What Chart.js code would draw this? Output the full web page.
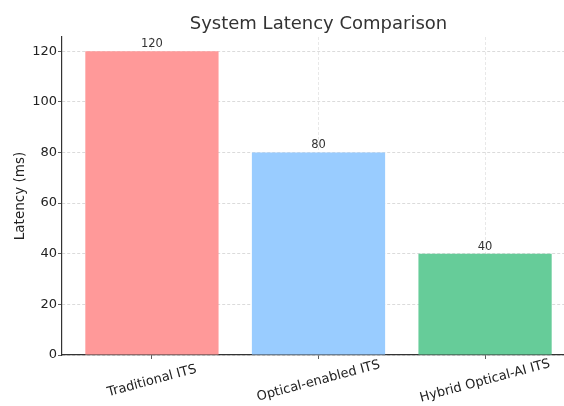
<!DOCTYPE html>
<html>
<head>
<meta charset="utf-8">
<script src="https://cdn.jsdelivr.net/npm/chart.js@4.4.0/dist/chart.umd.min.js"></script>
<style>
    html, body { margin: 0; padding: 0; background: #fff; overflow: hidden; }
    #wrap { width: 576px; height: 406px; position: relative; }
</style>
</head>
<body>
<div id="wrap"><canvas id="chart"></canvas></div>
<script>
const categories = ['Traditional ITS', 'Optical-enabled ITS', 'Hybrid Optical-AI ITS'];
const latencyValues = [120, 80, 40];
const barColors = ['#ff9999', '#99ccff', '#66cc99'];
const yTicks = [0, 20, 40, 60, 80, 100, 120];

const chartTitle = 'System Latency Comparison';
const yAxisTitle = 'Latency (ms)';
const fontFamily = '"DejaVu Sans", sans-serif';

// 标题、数值标签和旋转的 x 轴标签
const annotatePlugin = {
    id: 'annotate',
    afterDraw(chart) {
        const ctx = chart.ctx;
        const area = chart.chartArea;
        const xScale = chart.scales.x;
        const meta = chart.getDatasetMeta(0);

        ctx.save();
        // 标题
        ctx.fillStyle = '#333333';
        ctx.font = '18px ' + fontFamily;
        ctx.textAlign = 'center';
        ctx.textBaseline = 'alphabetic';
        ctx.fillText(chartTitle, (area.left + area.right) / 2, 29);

        // 柱子上的数值
        ctx.font = '11.5px ' + fontFamily;
        ctx.fillStyle = '#333333';
        meta.data.forEach((bar, i) => {
            ctx.fillText(String(latencyValues[i]), bar.x, bar.y - 4);
        });

        // x 轴标签
        ctx.font = '13px ' + fontFamily;
        ctx.fillStyle = '#222222';
        ctx.textBaseline = 'middle';
        categories.forEach((label, i) => {
            const x = xScale.getPixelForValue(i);
            ctx.save();
            ctx.translate(x, area.bottom + 26);
            ctx.rotate(-15 * Math.PI / 180);
            ctx.fillText(label, 0, 0);
            ctx.restore();
        });
        ctx.restore();
    }
};

new Chart(document.getElementById('chart'), {
    type: 'bar',
    data: {
        datasets: [{
            data: latencyValues.map((v, i) => ({ x: i, y: v })),
            backgroundColor: barColors,
            borderWidth: 0,
            barPercentage: 0.8,
            categoryPercentage: 1.0
        }]
    },
    options: {
        responsive: true,
        maintainAspectRatio: false,
        animation: false,
        layout: { padding: { top: 37, right: 1, left: 0, bottom: 0 } },
        plugins: {
            legend: { display: false },
            title: { display: false },
            tooltip: { enabled: false }
        },
        scales: {
            x: {
                type: 'linear',
                min: -0.54,
                max: 2.54,
                offset: false,
                z: 1,
                afterFit: (scale) => { scale.height = 51; },
                afterBuildTicks: (scale) => {
                    scale.ticks = categories.map((c, i) => ({ value: i }));
                },
                grid: {
                    offset: false,
                    color: 'rgba(170,170,170,0.35)',
                    lineWidth: 0.8,
                    tickLength: 4,
                    tickColor: '#333333'
                },
                border: { display: true, color: '#333333', width: 1.2, dash: [3, 2] },
                ticks: { display: false }
            },
            y: {
                min: 0,
                max: 125.6,
                afterFit: (scale) => { scale.width = 62; },
                afterBuildTicks: (scale) => {
                    scale.ticks = yTicks.map(v => ({ value: v }));
                },
                grid: {
                    color: 'rgba(190,190,190,0.7)',
                    lineWidth: 0.8,
                    tickLength: 4,
                    tickColor: '#333333'
                },
                border: { display: true, color: '#333333', width: 1.2, dash: [3, 2] },
                ticks: {
                    color: '#222222',
                    font: { family: fontFamily, size: 13 },
                    padding: 1
                },
                title: {
                    display: true,
                    text: yAxisTitle,
                    color: '#222222',
                    font: { family: fontFamily, size: 13.5 },
                    padding: { top: 12, bottom: 0 }
                }
            }
        }
    },
    plugins: [annotatePlugin]
});
</script>
</body>
</html>
